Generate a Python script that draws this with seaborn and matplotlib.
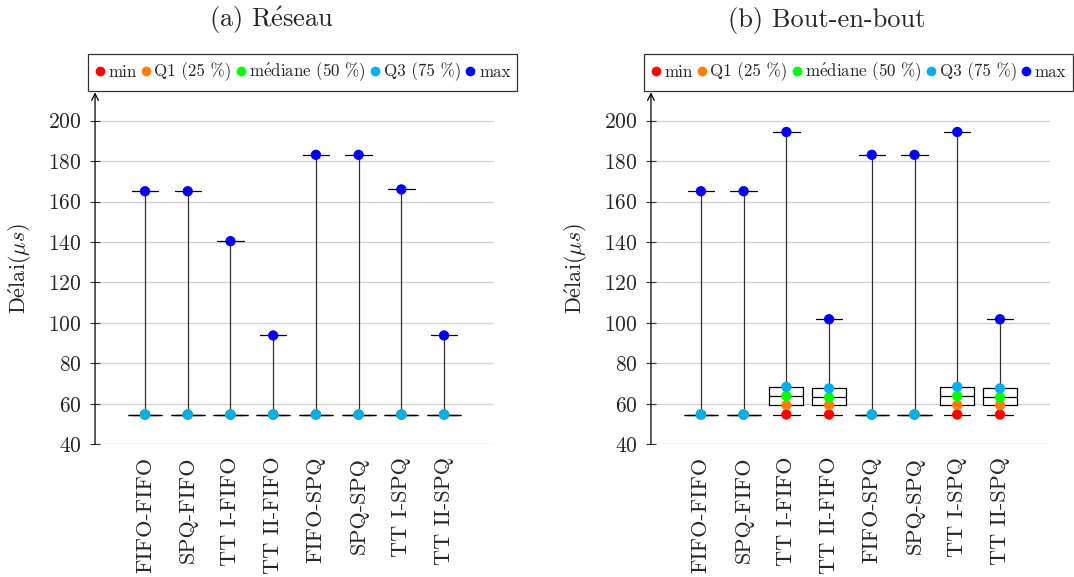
import numpy as np
import pandas as pd
import matplotlib
matplotlib.use("Agg")
import matplotlib.pyplot as plt
from matplotlib.lines import Line2D
import seaborn as sns

# configurations (x axis)
configs = ["FIFO-FIFO", "SPQ-FIFO", "TT I-FIFO", "TT II-FIFO",
           "FIFO-SPQ", "SPQ-SPQ", "TT I-SPQ", "TT II-SPQ"]

# accents through mathtext so the whole string stays in Computer Modern
stat_labels = ["min", "Q1 (25 %)", r"m$\mathrm{\acute{e}}$diane (50 %)", "Q3 (75 %)", "max"]
stat_colors = ["#ff0000", "#ff8000", "#00ff00", "#00aeef", "#0000ff"]

# (a) Réseau
res_min = [54.7, 54.7, 54.7, 54.7, 54.7, 54.7, 54.7, 54.7]
res_q1 = [54.7, 54.7, 54.7, 54.7, 54.7, 54.7, 54.7, 54.7]
res_med = [54.7, 54.7, 54.7, 54.7, 54.7, 54.7, 54.7, 54.7]
res_q3 = [54.7, 54.7, 54.7, 54.7, 54.7, 54.7, 54.7, 54.7]
res_max = [165.1, 165.1, 140.4, 93.8, 183.1, 183.1, 166.0, 93.8]

# (b) Bout-en-bout
e2e_min = [54.7, 54.7, 54.7, 54.7, 54.7, 54.7, 54.7, 54.7]
e2e_q1 = [54.7, 54.7, 59.4, 59.4, 54.7, 54.7, 59.4, 59.4]
e2e_med = [54.7, 54.7, 63.9, 63.2, 54.7, 54.7, 63.9, 63.2]
e2e_q3 = [54.7, 54.7, 68.4, 67.6, 54.7, 54.7, 68.4, 67.6]
e2e_max = [165.1, 165.1, 194.4, 101.8, 183.1, 183.1, 194.4, 101.8]

yticks = [40, 60, 80, 100, 120, 140, 160, 180, 200]

sns.set_theme(style="white")
plt.rcParams["font.family"] = ["cmr10", "DejaVu Serif"]
plt.rcParams["mathtext.fontset"] = "cm"
plt.rcParams["axes.formatter.use_mathtext"] = True
plt.rcParams["axes.unicode_minus"] = False


def draw_panel(ax, mins, q1s, meds, q3s, maxs):
    pos = np.arange(1, len(configs) + 1)
    stats = []
    for i in range(len(configs)):
        stats.append(dict(whislo=mins[i], q1=q1s[i], med=meds[i], q3=q3s[i],
                          whishi=maxs[i], fliers=[]))
    ax.bxp(stats, positions=pos, widths=0.8, capwidths=0.62, showfliers=False,
           patch_artist=True,
           boxprops=dict(facecolor="white", edgecolor="black", linewidth=0.9),
           medianprops=dict(color="black", linewidth=0.9),
           whiskerprops=dict(color="#333333", linewidth=0.9),
           capprops=dict(color="black", linewidth=0.9))

    rows = []
    for name, vals in zip(stat_labels, [mins, q1s, meds, q3s, maxs]):
        for p, v in zip(pos, vals):
            rows.append((p, v, name))
    df = pd.DataFrame(rows, columns=["pos", "value", "stat"])
    sns.scatterplot(data=df, x="pos", y="value", hue="stat", hue_order=stat_labels,
                    palette=stat_colors, s=55, edgecolor="none", linewidth=0,
                    legend=False, ax=ax, zorder=4)

    ax.set_xlim(-0.17, 9.17)
    ax.set_ylim(40, 214)
    ax.set_yticks(yticks)
    ax.set_xticks(pos)
    ax.set_xticklabels(configs, rotation=90, fontsize=16)
    ax.tick_params(axis="x", length=0, pad=9)
    ax.tick_params(axis="y", labelsize=15.5, direction="inout", length=7,
                   width=0.8, color="#333333", left=True, pad=6)
    ax.yaxis.grid(True, color="#d4d4d4", linewidth=1.0)
    ax.set_axisbelow(True)
    for s in ax.spines.values():
        s.set_visible(False)
    ax.annotate("", xy=(0, 1), xytext=(0, 0), xycoords="axes fraction",
                arrowprops=dict(arrowstyle="->", color="black", lw=0.9,
                                shrinkA=0, shrinkB=0))
    ax.set_xlabel("")
    ax.set_ylabel(r"$\mathrm{D\acute{e}lai(}\mu s\mathrm{)}$", fontsize=16, labelpad=10)

    handles = [Line2D([], [], marker="o", linestyle="none", markersize=7,
                      markerfacecolor=c, markeredgecolor="none")
               for c in stat_colors]
    leg = ax.legend(handles, stat_labels, loc="lower left",
                    bbox_to_anchor=(-0.017, 1.005), ncol=5, fontsize=12.2,
                    frameon=True, fancybox=False, handlelength=0.5,
                    handletextpad=0.25, columnspacing=0.3, borderpad=0.42,
                    borderaxespad=0)
    leg.get_frame().set_edgecolor("black")
    leg.get_frame().set_linewidth(0.9)


fig = plt.figure(figsize=(10.74, 5.77), dpi=100)
ax1 = fig.add_axes([0.0885, 0.2300, 0.3715, 0.6100])
ax2 = fig.add_axes([0.6061, 0.2300, 0.3715, 0.6100])

draw_panel(ax1, res_min, res_q1, res_med, res_q3, res_max)
draw_panel(ax2, e2e_min, e2e_q1, e2e_med, e2e_q3, e2e_max)

fig.text(272 / 1074, 1 - 20 / 577, r"(a) R$\mathrm{\acute{e}}$seau",
         ha="center", va="center", fontsize=19)
fig.text(827 / 1074, 1 - 20 / 577, "(b) Bout-en-bout",
         ha="center", va="center", fontsize=19)

fig.savefig("out.png", dpi=100, facecolor="white")
